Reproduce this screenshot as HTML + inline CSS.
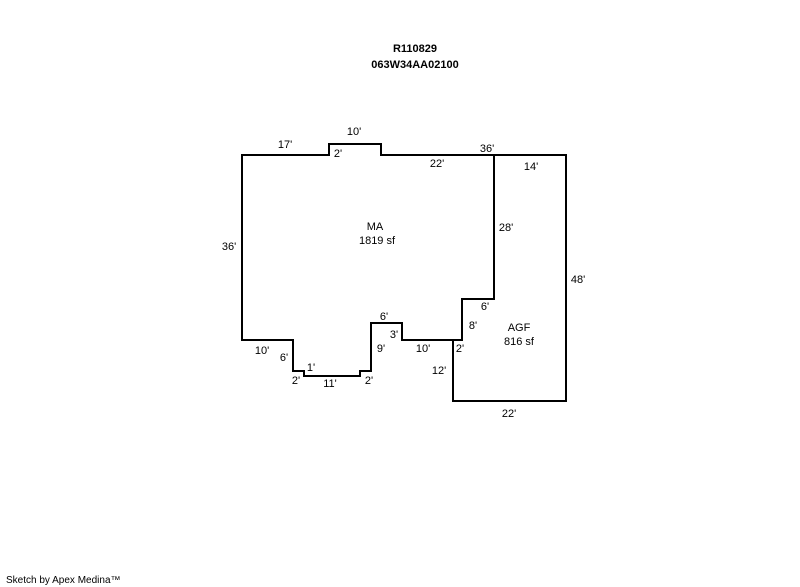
<!DOCTYPE html>
<html><head><meta charset="utf-8"><style>body{margin:0;background:#fff}svg{display:block}text{font-family:"Liberation Sans",Arial,sans-serif;font-size:11px;fill:#000}</style></head>
<body><svg width="800" height="587" viewBox="0 0 800 587">
<text x="415" y="52" text-anchor="middle" font-weight="bold">R110829</text>
<text x="415" y="68" text-anchor="middle" font-weight="bold">063W34AA02100</text>
<g fill="none" stroke="#000" stroke-width="2">
<path d="M242,155 H329 V144 H381 V155 H494 V299 H462 V340 H402 V323 H371 V371 H360 V376 H304 V371 H293 V340 H242 Z"/>
<path d="M494,155 H566 V401 H453 V340 H462"/>
</g>
<g text-anchor="middle">
<text x="285" y="148">17'</text>
<text x="354" y="135">10'</text>
<text x="338" y="157">2'</text>
<text x="437" y="167">22'</text>
<text x="487" y="152">36'</text>
<text x="531" y="170">14'</text>
<text x="375" y="230">MA</text>
<text x="377" y="244">1819 sf</text>
<text x="506" y="231">28'</text>
<text x="229" y="250">36'</text>
<text x="578" y="283">48'</text>
<text x="485" y="310">6'</text>
<text x="384" y="320">6'</text>
<text x="473" y="329">8'</text>
<text x="519" y="331">AGF</text>
<text x="519" y="345">816 sf</text>
<text x="394" y="338">3'</text>
<text x="262" y="354">10'</text>
<text x="381" y="352">9'</text>
<text x="423" y="352">10'</text>
<text x="460" y="352">2'</text>
<text x="284" y="361">6'</text>
<text x="311" y="371">1'</text>
<text x="439" y="374">12'</text>
<text x="296" y="384">2'</text>
<text x="330" y="387">11'</text>
<text x="369" y="384">2'</text>
<text x="509" y="417">22'</text>
</g>
<text x="6" y="583" style="font-size:10px">Sketch by Apex Medina™</text>
</svg></body></html>
